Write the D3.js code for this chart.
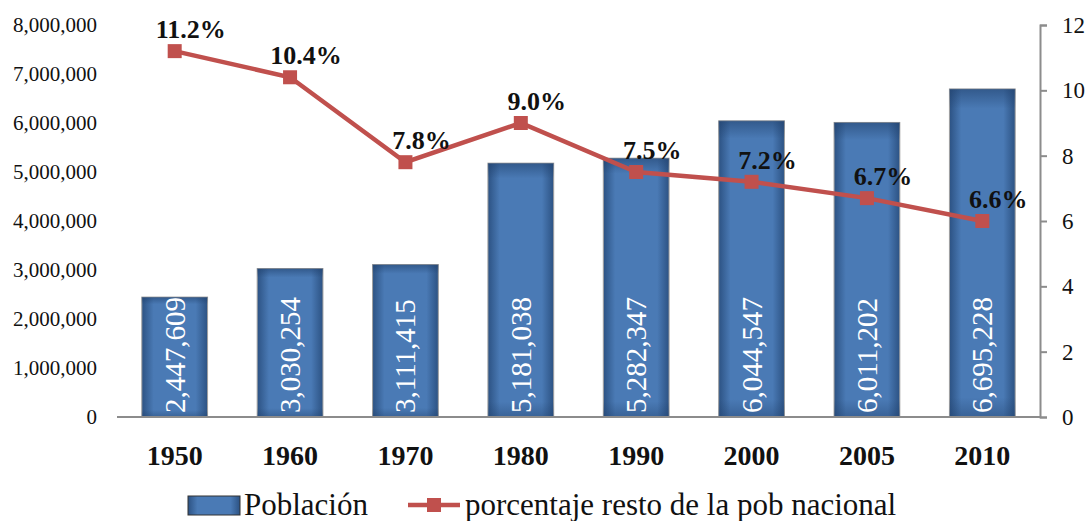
<!DOCTYPE html>
<html>
<head>
<script src="https://d3js.org/d3.v7.min.js"></script>
<style>
  body { margin: 0; background: #fff; }
  .tick text { font-family: "Liberation Serif", serif; fill: #111; }
</style>
</head>
<body>
<script>
// data
var years = ["1950", "1960", "1970", "1980", "1990", "2000", "2005", "2010"];
var poblacion = [2447609, 3030254, 3111415, 5181038, 5282347, 6044547, 6011202, 6695228];
var porcentaje = [11.2, 10.4, 7.8, 9.0, 7.5, 7.2, 6.7, 6.0];
var porcentajeLabels = ["11.2%", "10.4%", "7.8%", "9.0%", "7.5%", "7.2%", "6.7%", "6.6%"];
var leftTicks = [0, 1000000, 2000000, 3000000, 4000000, 5000000, 6000000, 7000000, 8000000];
var rightTicks = [0, 2, 4, 6, 8, 10, 12];

var W = 1091, H = 521;
var plotL = 117, plotR = 1040, plotT = 25, plotB = 417;

var svg = d3.select("body").append("svg")
    .attr("width", W)
    .attr("height", H);

var defs = svg.append("defs");
var grad = defs.append("linearGradient").attr("id", "barGrad")
    .attr("x1", "0%").attr("x2", "100%").attr("y1", "0%").attr("y2", "0%");
grad.append("stop").attr("offset", "0%").attr("stop-color", "#2c5283");
grad.append("stop").attr("offset", "18%").attr("stop-color", "#4a7ab5");
grad.append("stop").attr("offset", "82%").attr("stop-color", "#4a7ab5");
grad.append("stop").attr("offset", "100%").attr("stop-color", "#2c5283");
var vgrad = defs.append("linearGradient").attr("id", "barShade")
    .attr("x1", "0%").attr("x2", "0%").attr("y1", "0%").attr("y2", "100%");
vgrad.append("stop").attr("offset", "0%").attr("stop-color", "#1f3f6a").attr("stop-opacity", 0.55);
vgrad.append("stop").attr("offset", "6%").attr("stop-color", "#1f3f6a").attr("stop-opacity", 0);
vgrad.append("stop").attr("offset", "94%").attr("stop-color", "#1f3f6a").attr("stop-opacity", 0);
vgrad.append("stop").attr("offset", "100%").attr("stop-color", "#1f3f6a").attr("stop-opacity", 0.4);

var x = d3.scaleBand().domain(years).range([plotL, plotR]).paddingInner(0.43).paddingOuter(0.215);
var yL = d3.scaleLinear().domain([0, 8000000]).range([plotB, plotT]);
var yR = d3.scaleLinear().domain([0, 12]).range([plotB, plotT]);

// left axis (no line)
var gL = svg.append("g")
    .attr("transform", "translate(" + plotL + ",0)")
    .call(d3.axisLeft(yL).tickValues(leftTicks).tickSize(0).tickPadding(20)
        .tickFormat(d3.format(",")));
gL.select(".domain").remove();
gL.selectAll("text").style("font-size", "21px");

// right axis
var gR = svg.append("g")
    .attr("transform", "translate(" + plotR + ",0)")
    .call(d3.axisRight(yR).tickValues(rightTicks).tickSize(7).tickPadding(15).tickSizeOuter(7));
gR.select(".domain").attr("stroke", "#8c8c8c").attr("stroke-width", 2);
gR.selectAll(".tick line").attr("stroke", "#8c8c8c").attr("stroke-width", 2);
gR.selectAll("text").style("font-size", "23px");

// bars
var bars = svg.append("g").selectAll("g.bar")
    .data(years)
    .enter().append("g").attr("class", "bar");
bars.append("rect")
    .attr("x", function(d) { return x(d); })
    .attr("y", function(d, i) { return yL(poblacion[i]); })
    .attr("width", x.bandwidth())
    .attr("height", function(d, i) { return plotB - yL(poblacion[i]); })
    .attr("fill", "url(#barGrad)")
    .attr("stroke", "#a0a0a0")
    .attr("stroke-width", 1);
bars.append("rect")
    .attr("x", function(d) { return x(d); })
    .attr("y", function(d, i) { return yL(poblacion[i]); })
    .attr("width", x.bandwidth())
    .attr("height", function(d, i) { return plotB - yL(poblacion[i]); })
    .attr("fill", "url(#barShade)");

// bar labels
bars.append("text")
    .attr("transform", function(d) {
        return "translate(" + (x(d) + x.bandwidth() / 2 + 10) + "," + (plotB - 4) + ") rotate(-90)";
    })
    .attr("text-anchor", "start")
    .style("font-family", "'Liberation Serif', serif")
    .style("font-size", "29px")
    .style("fill", "#fff")
    .text(function(d, i) { return d3.format(",")(poblacion[i]); });

// baseline
svg.append("line")
    .attr("x1", plotL).attr("x2", plotR)
    .attr("y1", plotB).attr("y2", plotB)
    .attr("stroke", "#8c8c8c").attr("stroke-width", 2);

// x labels
svg.append("g").selectAll("text")
    .data(years)
    .enter().append("text")
    .attr("x", function(d) { return x(d) + x.bandwidth() / 2; })
    .attr("y", 465)
    .attr("text-anchor", "middle")
    .style("font-family", "'Liberation Serif', serif")
    .style("font-weight", "bold")
    .style("font-size", "28px")
    .style("fill", "#111")
    .text(function(d) { return d; });

// line
var line = d3.line()
    .x(function(d, i) { return x(years[i]) + x.bandwidth() / 2; })
    .y(function(d) { return yR(d); });
svg.append("path")
    .datum(porcentaje)
    .attr("d", line)
    .attr("fill", "none")
    .attr("stroke", "#c0504d")
    .attr("stroke-width", 4.5);
svg.append("g").selectAll("rect")
    .data(porcentaje)
    .enter().append("rect")
    .attr("x", function(d, i) { return x(years[i]) + x.bandwidth() / 2 - 7; })
    .attr("y", function(d) { return yR(d) - 7; })
    .attr("width", 14).attr("height", 14)
    .attr("fill", "#c0504d");

// percentage labels
svg.append("g").selectAll("text")
    .data(porcentaje)
    .enter().append("text")
    .attr("x", function(d, i) { return x(years[i]) + x.bandwidth() / 2 + 16; })
    .attr("y", function(d) { return yR(d) - 13; })
    .attr("text-anchor", "middle")
    .style("font-family", "'Liberation Serif', serif")
    .style("font-weight", "bold")
    .style("font-size", "26px")
    .style("fill", "#111")
    .text(function(d, i) { return porcentajeLabels[i]; });

// legend
var leg = svg.append("g");
leg.append("rect").attr("x", 188).attr("y", 496).attr("width", 52).attr("height", 19)
    .attr("fill", "url(#barGrad)").attr("stroke", "#333").attr("stroke-width", 1);
leg.append("text").attr("x", 244).attr("y", 515)
    .style("font-family", "'Liberation Serif', serif").style("font-size", "31px").style("fill", "#111")
    .text("Población");
leg.append("line").attr("x1", 408).attr("x2", 460).attr("y1", 505).attr("y2", 505)
    .attr("stroke", "#c0504d").attr("stroke-width", 4.5);
leg.append("rect").attr("x", 427).attr("y", 498).attr("width", 14).attr("height", 14).attr("fill", "#c0504d");
leg.append("text").attr("x", 465).attr("y", 515)
    .style("font-family", "'Liberation Serif', serif").style("font-size", "31px").style("fill", "#111")
    .text("porcentaje resto de la pob nacional");
</script>
</body>
</html>
